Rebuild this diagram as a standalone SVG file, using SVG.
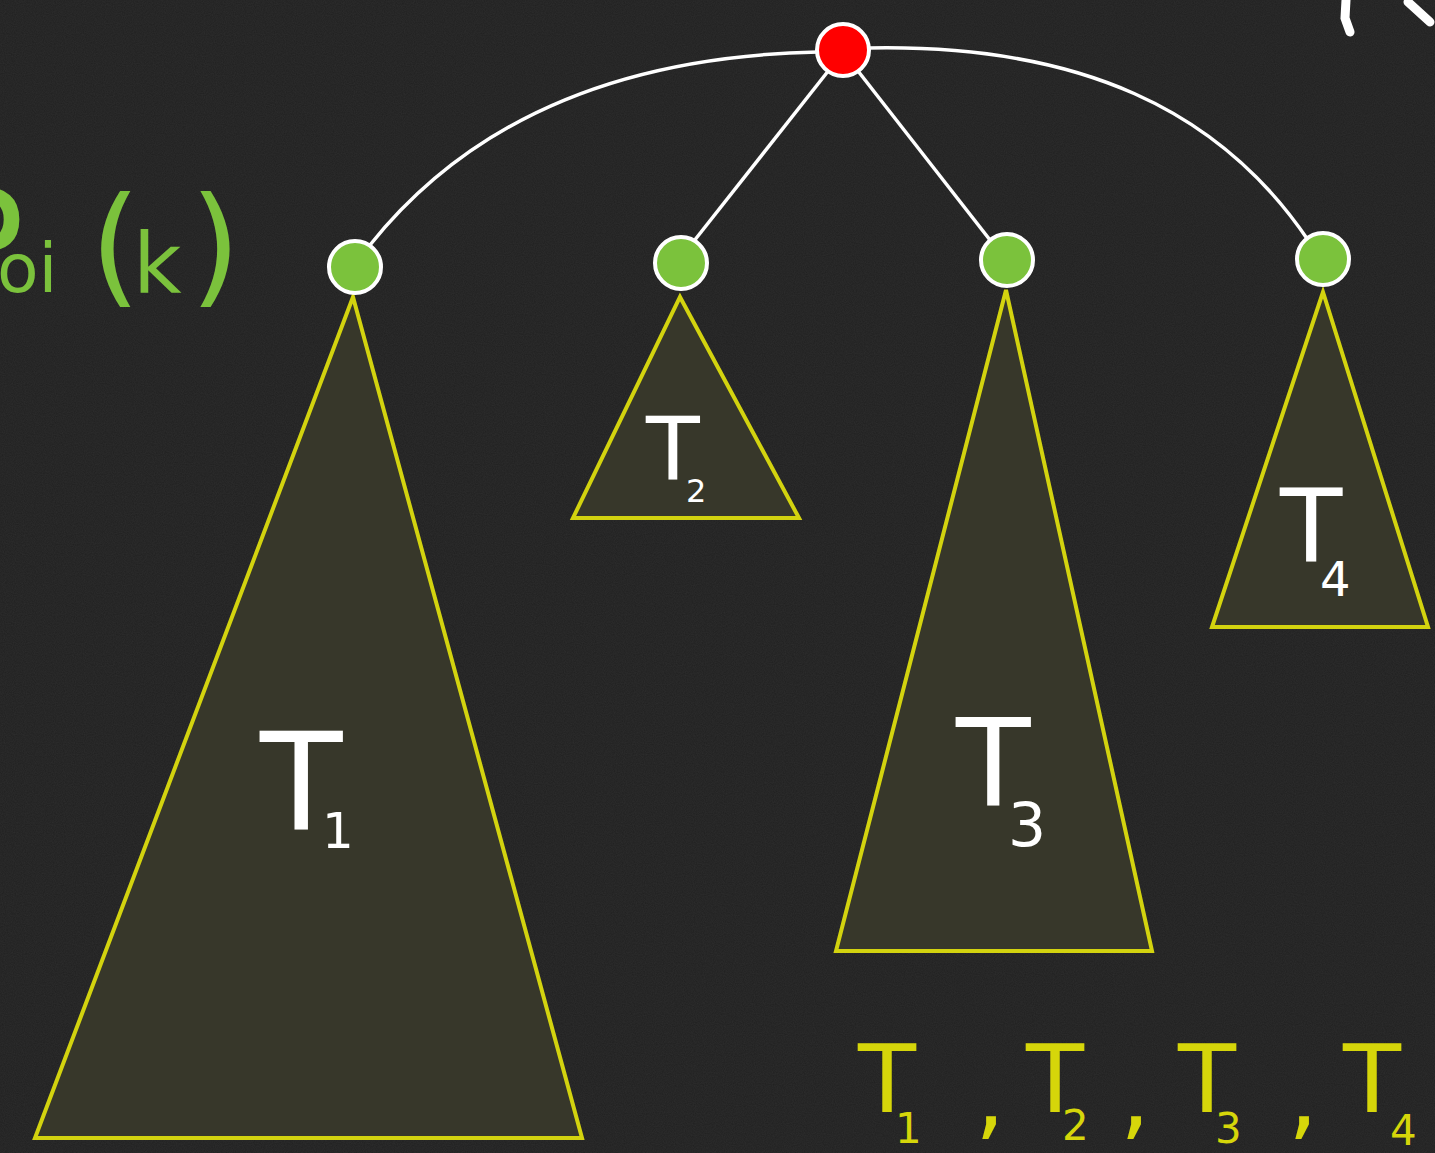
<svg xmlns="http://www.w3.org/2000/svg" width="1435" height="1153" viewBox="0 0 1435 1153">
<style>
.tri{fill:#37372a;stroke:#d3d30f;stroke-width:4;stroke-linejoin:miter}
.edge{fill:none;stroke:#ffffff;stroke-width:3.5}
.leaf{fill:#7bc23c;stroke:#ffffff;stroke-width:4}
.root{fill:#ff0000;stroke:#ffffff;stroke-width:4}
.lbl{font-family:"DejaVu Sans","Liberation Sans",sans-serif;fill:#ffffff}
.ylbl{font-family:"DejaVu Sans","Liberation Sans",sans-serif;fill:#d6d60a}
.glbl{font-family:"DejaVu Sans","Liberation Sans",sans-serif;fill:#7bc23c}
</style>
<defs>
<filter id="noise" x="0" y="0" width="100%" height="100%">
<feTurbulence type="fractalNoise" baseFrequency="0.9" numOctaves="2" seed="3"/>
<feColorMatrix type="matrix" values="0 0 0 0 1  0 0 0 0 1  0 0 0 0 1  0 0 0 0.06 0"/>
</filter>
</defs>
<rect width="1435" height="1153" fill="#202020"/>
<rect width="1435" height="1153" filter="url(#noise)"/>

<g id="edges">
<path class="edge" d="M818 52 C 620 56, 470 120, 370 245"/>
<path class="edge" d="M869 48 C 1080 44, 1220 110, 1308 240"/>
<line class="edge" x1="829" y1="70" x2="694" y2="241"/>
<line class="edge" x1="858" y1="71" x2="990" y2="240"/>
</g>

<g id="T1">
<polygon class="tri" points="353,297 582,1138 35,1138"/>
<text class="lbl" font-size="135"><tspan x="260" y="830">T</tspan><tspan x="322" y="848" font-size="50">1</tspan></text>
</g>
<g id="T2">
<polygon class="tri" points="680,297 799,518 573,518"/>
<text class="lbl" font-size="88"><tspan x="646" y="480">T</tspan><tspan x="686" y="502" font-size="32">2</tspan></text>
</g>
<g id="T3">
<polygon class="tri" points="1006,290 1152,951 836,951"/>
<text class="lbl" font-size="122"><tspan x="956" y="805">T</tspan><tspan x="1008" y="846" font-size="60">3</tspan></text>
</g>
<g id="T4">
<polygon class="tri" points="1323,292 1428,627 1212,627"/>
<text class="lbl" font-size="102"><tspan x="1280" y="562">T</tspan><tspan x="1320" y="596" font-size="48">4</tspan></text>
</g>

<g id="root"><circle class="root" cx="843" cy="50" r="26"/></g>
<g id="n1"><circle class="leaf" cx="355" cy="267" r="26"/></g>
<g id="n2"><circle class="leaf" cx="681" cy="263" r="26"/></g>
<g id="n3"><circle class="leaf" cx="1007" cy="260" r="26"/></g>
<g id="n4"><circle class="leaf" cx="1323" cy="259" r="26"/></g>

<g id="poi">
<text class="glbl"><tspan x="-66" y="296" font-size="150">P</tspan><tspan x="-3" y="292" font-size="68">oi</tspan><tspan x="90" y="290" font-size="130">(</tspan><tspan x="133" y="293" font-size="84">k</tspan><tspan x="190" y="290" font-size="130">)</tspan></text>
</g>

<g id="list">
<text class="ylbl" font-size="95"><tspan x="858" y="1112">T</tspan><tspan x="895" y="1143" font-size="42">1</tspan><tspan x="975" y="1128">,</tspan><tspan x="1026" y="1112">T</tspan><tspan x="1062" y="1140" font-size="42">2</tspan><tspan x="1120" y="1128">,</tspan><tspan x="1178" y="1112">T</tspan><tspan x="1215" y="1143" font-size="42">3</tspan><tspan x="1288" y="1128">,</tspan><tspan x="1343" y="1112">T</tspan><tspan x="1390" y="1145" font-size="42">4</tspan></text>
</g>

<g id="scribble" fill="none" stroke="#ffffff" stroke-width="9" stroke-linecap="round">
<path d="M1346 0 L1345 18 L1350 32"/>
<path d="M1408 2 L1430 22"/>
</g>
</svg>
